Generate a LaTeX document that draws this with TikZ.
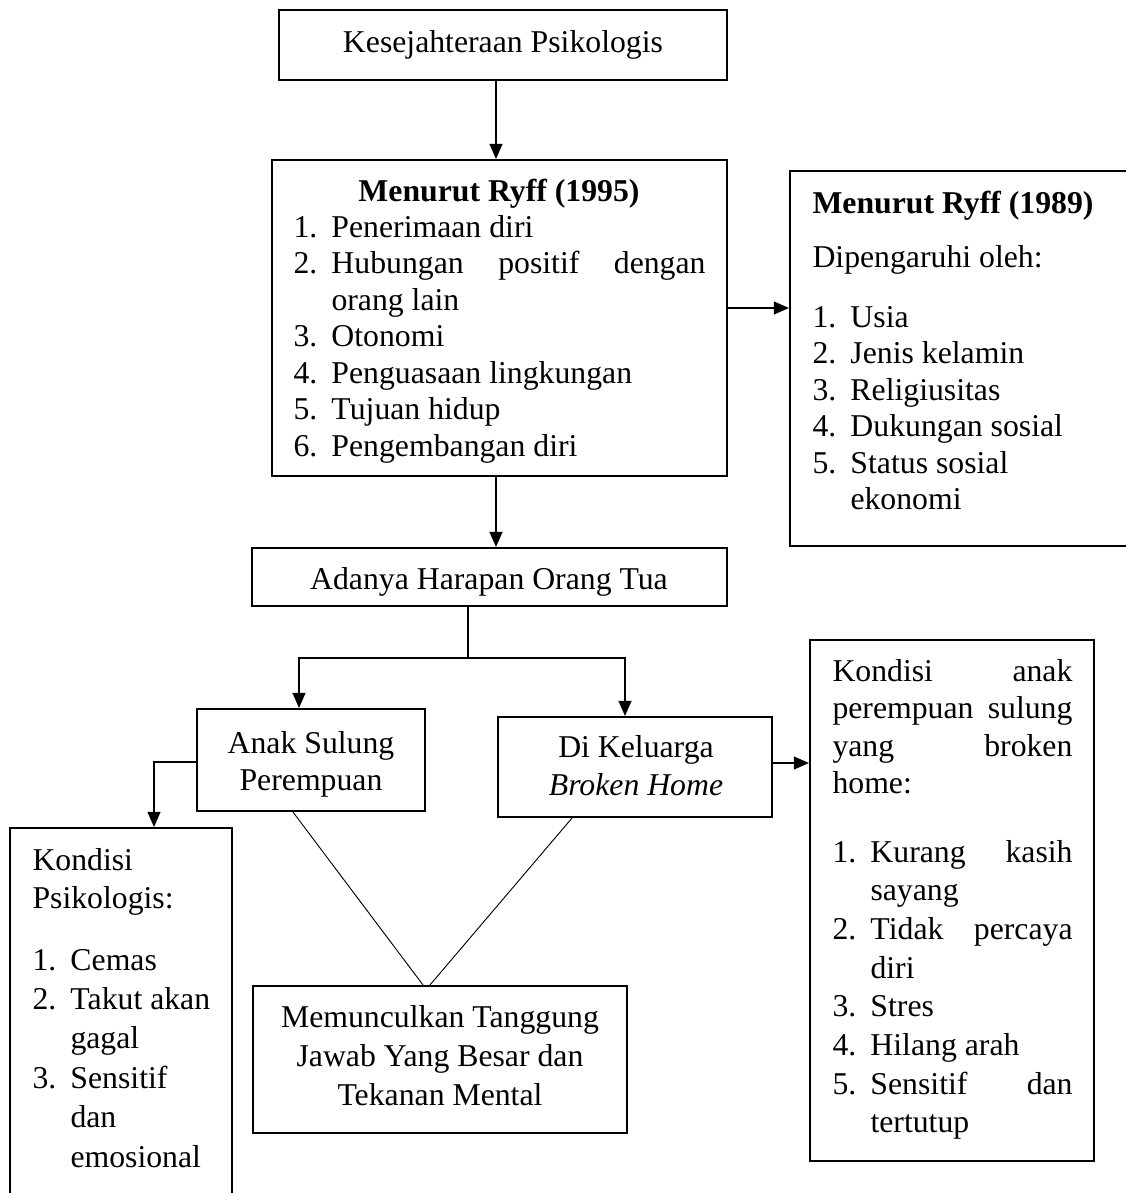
\documentclass[tikz,border=0pt]{standalone}
\usepackage{fontspec}
\setmainfont{Liberation Serif}
\usetikzlibrary{arrows.meta,fit}

% list helpers: number column, continuation indent, stretched (justified) line
\newcommand\num[1]{\makebox[14.36pt][l]{#1}}
\newcommand\cont{\hspace*{14.36pt}}
\newcommand\just[2]{\makebox[#1][s]{#2}}
\newcommand\txt[2]{\fontsize{12pt}{#1}\selectfont #2}

\begin{document}
\begin{tikzpicture}[x=0.378pt,y=-0.378pt,
  frame/.style={draw=black, line width=0.8pt, inner sep=0pt},
  link/.style={draw=black, line width=0.45pt},
  arr/.style={link, -{Triangle[width=4.9pt,length=5.7pt]}},
  label/.style={inner sep=0pt, font=\fontsize{12pt}{13.8pt}\selectfont},
  head/.style={inner sep=0pt, font=\fontsize{12pt}{13.8pt}\selectfont\bfseries},
]
\path[use as bounding box, fill=white] (0,0) rectangle (1126,1193);
\clip (0,0) rectangle (1126,1193);

% boxes
\node[frame, fit={(279,10) (727,80)}] (b1) {};
\node[frame, fit={(272,160) (727,476)}] (b2) {};
\node[frame, fit={(790,171) (1145,546)}] (b3) {};
\node[frame, fit={(252,548) (727,606)}] (b4) {};
\node[frame, fit={(197,709) (425,811)}] (b5) {};
\node[frame, fit={(498,717) (772,817)}] (b6) {};
\node[frame, fit={(810,640) (1094,1161)}] (b7) {};
\node[frame, fit={(10,828) (232,1220)}] (b8) {};
\node[frame, fit={(253,986) (627,1133)}] (b9) {};

% texts
\node[label, anchor=base] (t1) at (503,52) {Kesejahteraan Psikologis};

\node[head, anchor=base] (h2) at (499,201) {Menurut Ryff (1995)};
\node[label, anchor=base west] (t2) at (293,237) {\begin{minipage}[t]{170pt}\txt{13.83pt}{%
\num{1.}Penerimaan diri\\
\num{2.}\just{141.4pt}{Hubungan positif dengan}\\
\cont orang lain\\
\num{3.}Otonomi\\
\num{4.}Penguasaan lingkungan\\
\num{5.}Tujuan hidup\\
\num{6.}Pengembangan diri}\end{minipage}};

\node[head, anchor=base west] (h3) at (812,213) {Menurut Ryff (1989)};
\node[label, anchor=base west] (s3) at (812,267) {Dipengaruhi oleh:};
\node[label, anchor=base west] (t3) at (812,327) {\begin{minipage}[t]{130pt}\txt{13.83pt}{%
\num{1.}Usia\\
\num{2.}Jenis kelamin\\
\num{3.}Religiusitas\\
\num{4.}Dukungan sosial\\
\num{5.}Status sosial\\
\cont ekonomi}\end{minipage}};

\node[label, anchor=base] (t4) at (489,589) {Adanya Harapan Orang Tua};

\node[label, anchor=base] (t5) at (311,753) {\begin{minipage}[t]{80pt}\centering\txt{14pt}{%
Anak Sulung\\Perempuan}\end{minipage}};

\node[label, anchor=base] (t6) at (636,757) {\begin{minipage}[t]{90pt}\centering\txt{14.36pt}{%
Di Keluarga\\\textit{Broken Home}}\end{minipage}};

\node[label, anchor=base west] (h7) at (832,681) {\begin{minipage}[t]{95pt}\txt{14.18pt}{%
\just{90.7pt}{Kondisi anak}\\
\just{90.7pt}{perempuan sulung}\\
\just{90.7pt}{yang broken}\\
home:}\end{minipage}};
\node[label, anchor=base west] (t7) at (832,862) {\begin{minipage}[t]{95pt}\txt{14.63pt}{%
\num{1.}\just{76.4pt}{Kurang kasih}\\
\cont sayang\\
\num{2.}\just{76.4pt}{Tidak percaya}\\
\cont diri\\
\num{3.}Stres\\
\num{4.}Hilang arah\\
\num{5.}\just{76.4pt}{Sensitif dan}\\
\cont tertutup}\end{minipage}};

\node[label, anchor=base west] (h8) at (32,870) {\begin{minipage}[t]{80pt}\txt{14.36pt}{%
Kondisi\\Psikologis:}\end{minipage}};
\node[label, anchor=base west] (t8) at (32,970) {\begin{minipage}[t]{80pt}\txt{14.9pt}{%
\num{1.}Cemas\\
\num{2.}Takut akan\\
\cont gagal\\
\num{3.}Sensitif\\
\cont dan\\
\cont emosional}\end{minipage}};

\node[label, anchor=base] (t9) at (440,1027) {\begin{minipage}[t]{150pt}\centering\txt{14.74pt}{%
Memunculkan Tanggung\\Jawab Yang Besar dan\\Tekanan Mental}\end{minipage}};

% connector guides
\coordinate (v1) at (496,0);
\coordinate (h1) at (0,308);
\coordinate (j) at (468,658);
\coordinate (lb) at (299,0);
\coordinate (rb) at (625,0);
\coordinate (h2c) at (154,762);
\coordinate (h3c) at (0,763);
\coordinate (d1) at (293,0);
\coordinate (d2) at (423,0);
\coordinate (d3) at (572,0);
\coordinate (d4) at (430,0);

% connectors
\draw[arr] (b1.south -| v1) -- (b2.north -| v1);
\draw[arr] (b2.south -| v1) -- (b4.north -| v1);
\draw[arr] (b2.east |- h1) -- (b3.west |- h1);
\draw[link] (b4.south -| j) -- (j);
\draw[arr] (j) -| (b5.north -| lb);
\draw[arr] (j) -| (b6.north -| rb);
\draw[arr] (b5.west |- h2c) -| (b8.north -| h2c);
\draw[arr] (b6.east |- h3c) -- (b7.west |- h3c);
\draw[link, line width=0.35pt] (b5.south -| d1) -- (b9.north -| d2);
\draw[link, line width=0.35pt] (b6.south -| d3) -- (b9.north -| d4);
\end{tikzpicture}
\end{document}
